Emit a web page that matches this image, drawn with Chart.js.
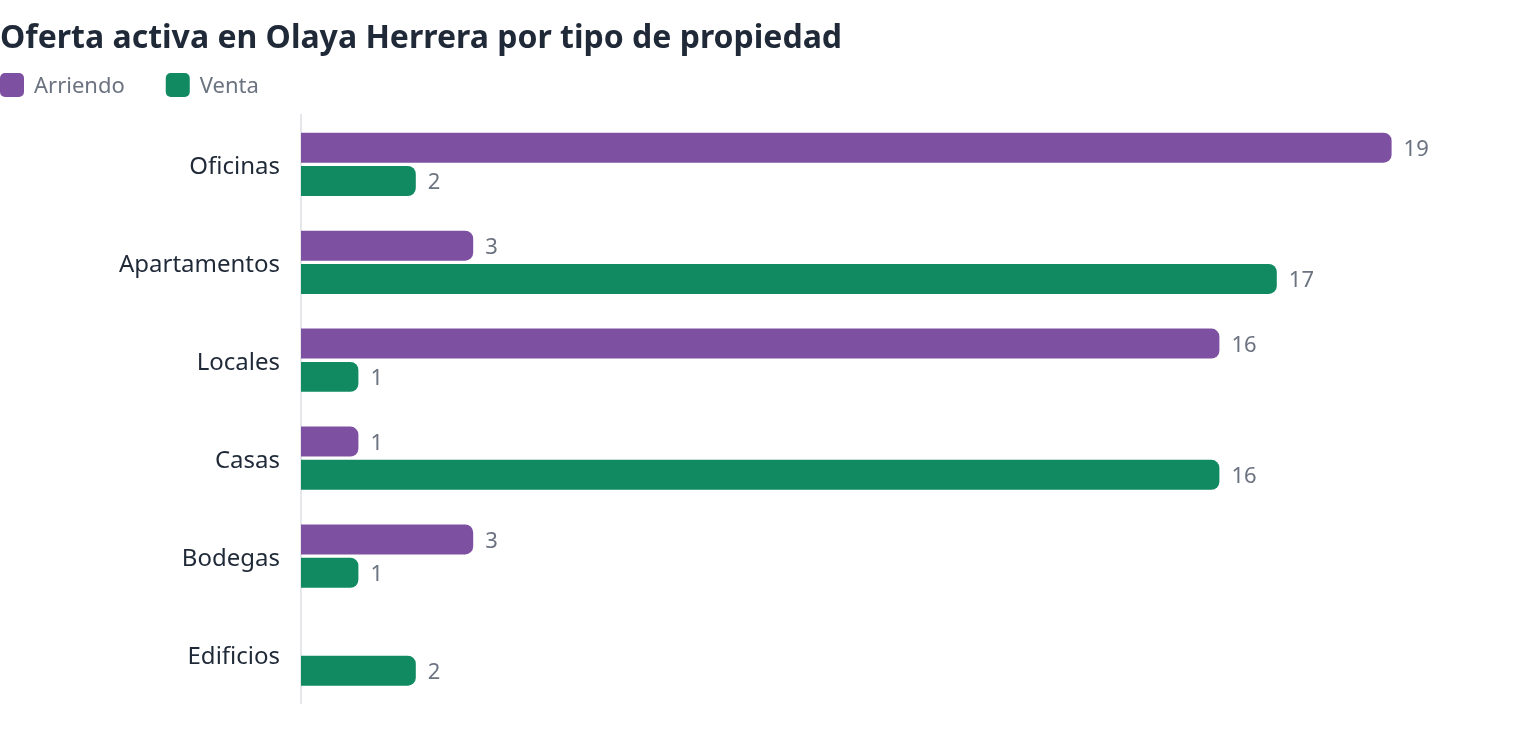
<!DOCTYPE html>
<html lang="es">
<head>
<meta charset="utf-8">
<title>Oferta activa en Olaya Herrera</title>
<script src="https://cdn.jsdelivr.net/npm/chart.js@4.4.1/dist/chart.umd.min.js"></script>
<style>
  html, body { margin: 0; padding: 0; background: #ffffff; }
  #wrap { width: 1520px; height: 740px; position: relative; }
</style>
</head>
<body>
<div id="wrap"><canvas id="grafico"></canvas></div>
<script>
// datos
const categorias = ['Oficinas', 'Apartamentos', 'Locales', 'Casas', 'Bodegas', 'Edificios'];
const arriendo = [19, 3, 16, 1, 3, 0];
const venta = [2, 17, 1, 16, 1, 2];
const series = ['Arriendo', 'Venta'];

const FUENTE = '"Segoe UI", "Noto Sans", sans-serif';
const colores = ['#7e50a2', '#118a61'];
const gris = '#6b7280';

// etiquetas al final de cada barra
const etiquetasBarras = {
  id: 'etiquetasBarras',
  afterDatasetsDraw(chart) {
    const ctx = chart.ctx;
    ctx.save();
    ctx.font = '22px ' + FUENTE;
    ctx.fillStyle = gris;
    ctx.textAlign = 'left';
    ctx.textBaseline = 'middle';
    chart.data.datasets.forEach(function(ds, i) {
      const meta = chart.getDatasetMeta(i);
      meta.data.forEach(function(bar, j) {
        const v = ds.data[j];
        if (!v) return;
        ctx.fillText(String(v), bar.x + 12, bar.y + 2);
      });
    });
    ctx.restore();
  }
};

// leyenda propia debajo del titulo
const leyenda = {
  id: 'leyenda',
  afterDraw(chart) {
    const ctx = chart.ctx;
    ctx.save();
    ctx.font = '22px ' + FUENTE;
    ctx.textBaseline = 'middle';
    ctx.textAlign = 'left';
    let x = 0;
    const y = 85;
    chart.data.datasets.forEach(function(ds) {
      ctx.fillStyle = ds.backgroundColor;
      ctx.beginPath();
      ctx.roundRect(x, y - 12, 24, 24, 5);
      ctx.fill();
      ctx.fillStyle = gris;
      ctx.fillText(ds.label, x + 34, y + 2);
      x += 34 + ctx.measureText(ds.label).width + 41;
    });
    ctx.restore();
  }
};

const ctx = document.getElementById('grafico').getContext('2d');
new Chart(ctx, {
  type: 'bar',
  data: {
    labels: categorias,
    datasets: series.map(function(nombre, i) {
      return {
        label: nombre,
        data: i === 0 ? arriendo : venta,
        backgroundColor: colores[i],
        borderRadius: 8,
        borderSkipped: 'start',
        categoryPercentage: 0.68,
        barPercentage: 0.9
      };
    })
  },
  options: {
    indexAxis: 'y',
    responsive: true,
    maintainAspectRatio: false,
    animation: false,
    layout: { padding: { left: 0, right: 71, top: 0, bottom: 37 } },
    plugins: {
      legend: { display: false },
      tooltip: { enabled: false },
      title: {
        display: true,
        text: 'Oferta activa en Olaya Herrera por tipo de propiedad',
        align: 'start',
        color: '#1f2937',
        font: { family: FUENTE, size: 32, weight: 'bold', lineHeight: 1.2 },
        padding: { top: 20, bottom: 57 }
      }
    },
    scales: {
      x: {
        display: false,
        min: 0,
        max: 20
      },
      y: {
        afterFit: function(scale) { scale.width = 301; },
        grid: { display: false, drawTicks: false },
        border: { display: true, color: '#e5e7eb', width: 2 },
        ticks: {
          color: '#1f2937',
          padding: 21,
          labelOffset: 3,
          font: { family: FUENTE, size: 24 }
        }
      }
    }
  },
  plugins: [etiquetasBarras, leyenda]
});
</script>
</body>
</html>
